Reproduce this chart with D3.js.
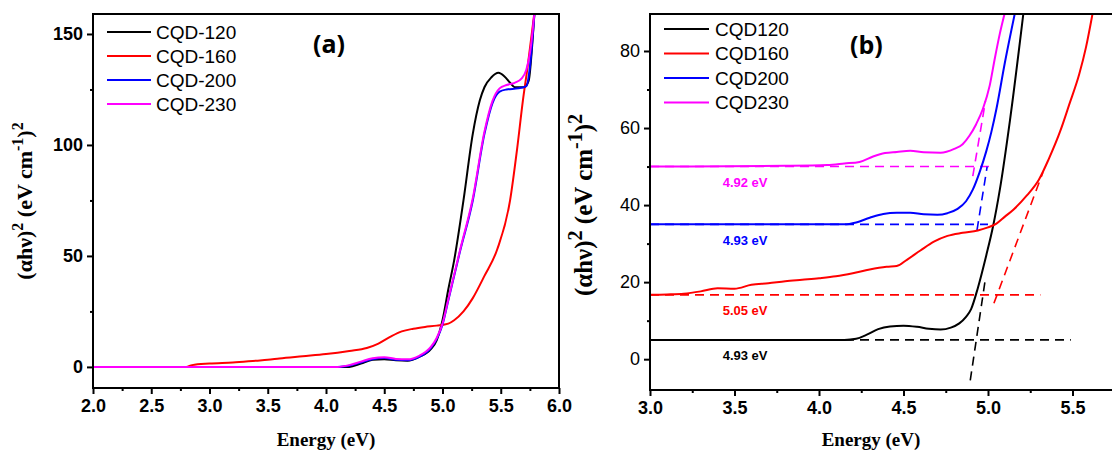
<!DOCTYPE html>
<html>
<head>
<meta charset="utf-8">
<script src="https://cdn.jsdelivr.net/npm/d3@7"></script>
<style>
body { margin: 0; background: #fff; }
svg { display: block; }
</style>
</head>
<body>
<svg id="chart" width="1112" height="453"></svg>
<script>
// ---- data ----
const namesA = ["CQD-120", "CQD-160", "CQD-200", "CQD-230"];
const namesB = ["CQD120", "CQD160", "CQD200", "CQD230"];
const colors = ["#000000", "#ff0000", "#0000ff", "#ff00ff"];

const xTicksA = [2.0, 2.5, 3.0, 3.5, 4.0, 4.5, 5.0, 5.5, 6.0];
const xMinorA = [2.25, 2.75, 3.25, 3.75, 4.25, 4.75, 5.25, 5.75];
const yTicksA = [0, 50, 100, 150];
const yMinorA = [25, 75, 125];

const xTicksB = [3.0, 3.5, 4.0, 4.5, 5.0, 5.5];
const xMinorB = [3.25, 3.75, 4.25, 4.75, 5.25, 5.75];
const yTicksB = [0, 20, 40, 60, 80];
const yMinorB = [10, 30, 50, 70];

// panel (a): [energy eV, (ahv)^2]
const cqd120A = [[2.0,0],[4.2,0],[4.3,1.5],[4.4,3.2],[4.5,3.5],[4.6,3.0],[4.7,2.8],[4.8,4.5],[4.9,8],[4.95,12],
  [5.0,21],[5.05,35],[5.1,48],[5.18,75],[5.26,105],[5.32,120],[5.36,126],[5.42,130.5],[5.48,132.5],[5.53,131],
  [5.58,128],[5.62,126],[5.7,126],[5.74,129],[5.77,145],[5.79,160]];
const cqd160A = [[2.0,0],[2.8,0],[2.85,0.8],[3.0,1.5],[3.2,2],[3.4,2.8],[3.5,3.2],[3.6,3.8],[3.8,4.8],[4.0,5.8],
  [4.2,7.2],[4.35,8.5],[4.45,10.5],[4.55,13.5],[4.65,16],[4.75,17.2],[4.85,18],[4.95,18.6],[5.05,19.5],[5.1,21],
  [5.18,25],[5.26,31],[5.36,41],[5.47,53],[5.58,75],[5.64,98],[5.69,120],[5.73,135],[5.79,160]];
const cqd200A = [[2.0,0],[4.1,0],[4.2,0.5],[4.3,2],[4.4,3.5],[4.5,4],[4.6,3.2],[4.7,3],[4.8,4.5],[4.9,8.5],
  [4.95,12.5],[5.0,19],[5.05,30],[5.15,52],[5.26,75],[5.36,105],[5.43,119],[5.49,124],[5.55,125],[5.65,125.5],
  [5.72,126.5],[5.75,135],[5.79,160]];
const cqd230A = [[2.0,0],[4.1,0],[4.2,0.8],[4.3,2.4],[4.4,3.9],[4.5,4.4],[4.6,3.6],[4.7,3.4],[4.8,5],[4.9,9],
  [4.95,13],[5.0,19.5],[5.05,30.5],[5.15,52.5],[5.26,76],[5.36,106],[5.43,120],[5.49,125.5],[5.55,127],[5.62,128],
  [5.68,130],[5.72,134],[5.76,145],[5.79,160]];

// panel (b): offset curves
const cqd120B = [[3.0,5],[4.15,5],[4.22,5.3],[4.28,6.3],[4.35,7.8],[4.42,8.5],[4.5,8.7],[4.58,8.4],[4.65,7.9],
  [4.72,7.7],[4.78,8.2],[4.83,9.3],[4.87,11],[4.9,13],[4.94,18.5],[4.99,27],[5.03,34.5],[5.07,44],[5.13,62],[5.21,90]];
const cqd160B = [[3.0,16.7],[3.1,16.8],[3.2,17.0],[3.3,17.6],[3.4,18.4],[3.5,18.3],[3.6,19.3],[3.7,19.7],[3.8,20.2],
  [3.9,20.6],[4.0,21],[4.1,21.5],[4.2,22.3],[4.3,23.3],[4.4,24],[4.46,24.2],[4.52,25.8],[4.6,28.2],[4.68,30.5],
  [4.76,32],[4.85,32.8],[4.94,33.4],[5.0,34.2],[5.05,35.2],[5.1,37],[5.15,38.8],[5.23,42.5],[5.3,46.5],[5.36,52],
  [5.43,59.5],[5.48,66],[5.54,74],[5.58,81],[5.62,90]];
const cqd200B = [[3.0,35],[4.15,35],[4.22,35.5],[4.3,36.7],[4.38,37.7],[4.46,38],[4.54,38],[4.62,37.6],[4.7,37.5],
  [4.76,37.9],[4.82,39],[4.87,41],[4.91,44],[4.95,48.5],[4.99,54],[5.02,59],[5.05,65],[5.1,77],[5.16,90]];
const cqd230B = [[3.0,50],[3.8,50.2],[4.05,50.4],[4.15,50.8],[4.24,51.2],[4.32,52.6],[4.39,53.5],[4.46,53.8],
  [4.54,54.1],[4.62,53.7],[4.72,53.6],[4.8,54.6],[4.85,55.8],[4.89,58],[4.93,61],[4.97,65],[5.01,71],[5.04,78],
  [5.07,84.5],[5.1,90]];

// dashed baselines and tangents (Tauc extrapolation)
const baselinesB = [[[3.0,5],[5.49,5]], [[3.0,16.7],[5.31,16.7]], [[3.0,35],[5.0,35]], [[3.0,50],[5.04,50]]];
const tangentsB = [[[4.895,-5.5],[4.985,21]], [[5.035,14.5],[5.325,48.5]], [[4.935,33.5],[4.995,50]], [[4.91,47.5],[4.985,67]]];
const gapLabels = ["4.93 eV", "5.05 eV", "4.93 eV", "4.92 eV"];

const seriesA = [cqd120A, cqd160A, cqd200A, cqd230A];
const seriesB = [cqd120B, cqd160B, cqd200B, cqd230B];

// ---- drawing ----
const svg = d3.select("#chart");
const sans = "Liberation Sans, Arial, sans-serif";
const serif = "Liberation Serif, Times New Roman, serif";

function drawAxes(g, x, y, opts) {
    const [x0, x1] = x.range();
    const [yb, yt] = y.range();

    // major + minor ticks, outward
    const xa = g.append("g").attr("transform", `translate(0,${yb})`)
        .call(d3.axisBottom(x).tickValues(opts.xTicks).tickSize(6).tickPadding(5).tickFormat(d3.format(".1f")));
    g.append("g").attr("transform", `translate(0,${yb})`)
        .call(d3.axisBottom(x).tickValues(opts.xMinor).tickSize(3).tickFormat(""));
    const ya = g.append("g").attr("transform", `translate(${x0},0)`)
        .call(d3.axisLeft(y).tickValues(opts.yTicks).tickSize(6).tickPadding(4));
    g.append("g").attr("transform", `translate(${x0},0)`)
        .call(d3.axisLeft(y).tickValues(opts.yMinor).tickSize(3).tickFormat(""));

    g.selectAll(".domain").remove();
    g.selectAll(".tick line").attr("stroke", "#000").attr("stroke-width", 2);
    xa.selectAll("text").attr("font-family", sans).attr("font-weight", "bold")
        .attr("font-size", 18).attr("fill", "#000");
    ya.selectAll("text").attr("font-family", sans).attr("font-weight", opts.yBold ? "bold" : "normal")
        .attr("font-size", 18).attr("fill", "#000");

    // frame
    const frame = [[x0, yb, x1, yb], [x0, yb, x0, yt], [x0, yt, x1, yt]];
    if (opts.rightEdge) frame.push([x1, yt, x1, yb]);
    g.selectAll("line.frame").data(frame).join("line").attr("class", "frame")
        .attr("x1", d => d[0]).attr("y1", d => d[1]).attr("x2", d => d[2]).attr("y2", d => d[3])
        .attr("stroke", "#000").attr("stroke-width", 2).attr("stroke-linecap", "square");
}

function yTitle(g, cx, cy, size, supSize, shift) {
    const t = g.append("text")
        .attr("transform", `translate(${cx},${cy}) rotate(-90)`)
        .attr("text-anchor", "middle")
        .attr("font-family", serif).attr("font-weight", "bold").attr("font-size", size);
    t.append("tspan").text("(\u03b1h\u03bd)");
    t.append("tspan").attr("dy", -shift).attr("font-size", supSize).text("2");
    t.append("tspan").attr("dy", shift).text(" (eV cm");
    t.append("tspan").attr("dy", -shift).attr("font-size", supSize).text("-1");
    t.append("tspan").attr("dy", shift).text(")");
    t.append("tspan").attr("dy", -shift).attr("font-size", supSize).text("2");
}

function legend(g, names, lx0, lx1, ty, step, tx) {
    names.forEach((n, i) => {
        g.append("line").attr("x1", lx0).attr("x2", lx1)
            .attr("y1", ty + i * step).attr("y2", ty + i * step)
            .attr("stroke", colors[i]).attr("stroke-width", 2);
        g.append("text").attr("x", tx).attr("y", ty + i * step)
            .attr("dominant-baseline", "central")
            .attr("font-family", sans).attr("font-size", 19).attr("fill", "#000").text(n);
    });
}

// ---------- panel (a) ----------
const xA = d3.scaleLinear().domain([2, 6]).range([93, 559]);
const yA = d3.scaleLinear().domain([-9.5, 159]).range([388, 14]);
const gA = svg.append("g");

svg.append("clipPath").attr("id", "clipA").append("rect")
    .attr("x", 93).attr("y", 14).attr("width", 466).attr("height", 374);

const lineA = d3.line().x(d => xA(d[0])).y(d => yA(d[1])).curve(d3.curveMonotoneX);
gA.append("g").attr("clip-path", "url(#clipA)")
    .selectAll("path").data(seriesA).join("path")
    .attr("d", lineA).attr("fill", "none")
    .attr("stroke", (d, i) => colors[i]).attr("stroke-width", 2);

drawAxes(gA, xA, yA, { xTicks: xTicksA, xMinor: xMinorA, yTicks: yTicksA, yMinor: yMinorA, yBold: true, rightEdge: true });
legend(gA, namesA, 107, 151, 32, 24, 156);

gA.append("text").attr("x", 313).attr("y", 53)
    .attr("font-family", "Open Sans, sans-serif").attr("font-weight", "bold").attr("font-size", 25)
    .text("(a)");
gA.append("text").attr("x", 326).attr("y", 446).attr("text-anchor", "middle")
    .attr("font-family", serif).attr("font-weight", "bold").attr("font-size", 19)
    .text("Energy (eV)");
yTitle(gA, 32, 201, 22, 16, 9);

// ---------- panel (b) ----------
const xB = d3.scaleLinear().domain([3, 5.8]).range([650, 650 + 2.8 * 169]);
const yB = d3.scaleLinear().domain([-8, 89.6]).range([390, 14]);
const gB = svg.append("g");

svg.append("clipPath").attr("id", "clipB").append("rect")
    .attr("x", 650).attr("y", 14).attr("width", 480).attr("height", 376);

const lineB = d3.line().x(d => xB(d[0])).y(d => yB(d[1]));
const curveB = d3.line().x(d => xB(d[0])).y(d => yB(d[1])).curve(d3.curveMonotoneX);
const plotB = gB.append("g").attr("clip-path", "url(#clipB)");

plotB.selectAll("path.base").data(baselinesB).join("path").attr("class", "base")
    .attr("d", lineB).attr("fill", "none")
    .attr("stroke", (d, i) => colors[i]).attr("stroke-width", 1.6).attr("stroke-dasharray", "9,6");
plotB.selectAll("path.tan").data(tangentsB).join("path").attr("class", "tan")
    .attr("d", lineB).attr("fill", "none")
    .attr("stroke", (d, i) => colors[i]).attr("stroke-width", 1.6).attr("stroke-dasharray", "9,6");
plotB.selectAll("path.curve").data(seriesB).join("path").attr("class", "curve")
    .attr("d", curveB).attr("fill", "none")
    .attr("stroke", (d, i) => colors[i]).attr("stroke-width", 2);

gB.selectAll("text.gap").data(gapLabels).join("text").attr("class", "gap")
    .attr("x", xB(3.43))
    .attr("y", (d, i) => yB(baselinesB[i][0][1]) + 16)
    .attr("dominant-baseline", "central")
    .attr("font-family", sans).attr("font-weight", "bold").attr("font-size", 13)
    .attr("fill", (d, i) => colors[i])
    .text(d => d);

drawAxes(gB, xB, yB, { xTicks: xTicksB, xMinor: xMinorB, yTicks: yTicksB, yMinor: yMinorB, yBold: false, rightEdge: false });
legend(gB, namesB, 664, 709, 29, 24.5, 715);

gB.append("text").attr("x", 850).attr("y", 54)
    .attr("font-family", "Open Sans, sans-serif").attr("font-weight", "bold").attr("font-size", 25)
    .text("(b)");
gB.append("text").attr("x", 871).attr("y", 446).attr("text-anchor", "middle")
    .attr("font-family", serif).attr("font-weight", "bold").attr("font-size", 19)
    .text("Energy (eV)");
yTitle(gB, 592, 205, 25, 20, 10);
</script>
</body>
</html>
